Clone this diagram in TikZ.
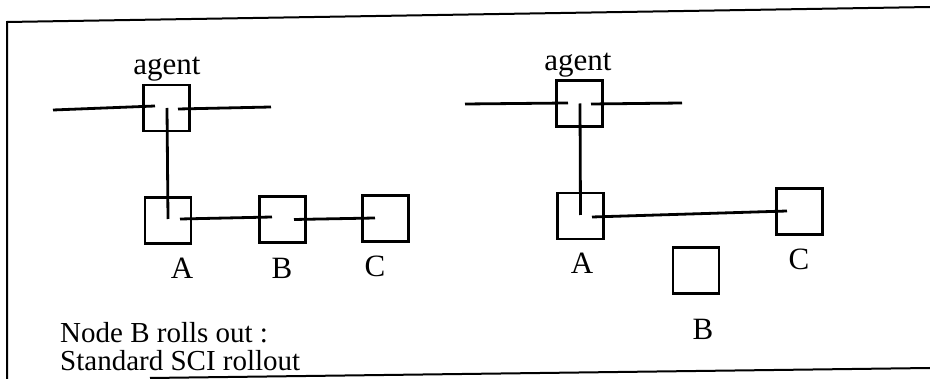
\documentclass[tikz,border=0pt]{standalone}
\usepackage{fontspec}
\setmainfont{Liberation Serif}
\begin{document}
\begin{tikzpicture}[x=1pt,y=-1pt,
  sq/.style={draw,line width=2.7pt,minimum width=46pt,minimum height=46pt,inner sep=0pt},
  wire/.style={line width=2.8pt},
  rim/.style={line width=2pt},
  lbl/.style={anchor=base,inner sep=0pt,font=\fontsize{31}{32}\selectfont},
  txt/.style={anchor=base west,inner sep=0pt,font=\fontsize{29}{24}\selectfont}]
\useasboundingbox (0,0) rectangle (930,379);

% frame
\coordinate (fTR) at (930,7);
\coordinate (fTL) at (7,22);
\coordinate (fBL) at (7,379);
\coordinate (fB1) at (150,378);
\coordinate (fBR) at (930,368);
\draw[rim] (fTR) -- (fTL) -- (fBL);
\draw[rim] (fB1) -- (fBR);

% ---- left: standard ring before rollout ----
\node[sq] (ag1) at (166.5,108) {};
\node[sq] (a1) at (168,220.5) {};
\node[sq] (b1) at (282.5,219.5) {};
\node[sq] (c1) at (385.5,218.5) {};
\node[lbl] (ag1t) at (167,75) {agent};
\node[lbl] (a1t) at (182,279) {A};
\node[lbl] (b1t) at (282,279) {B};
\node[lbl] (c1t) at (375,277) {C};
\coordinate (bus1L) at (53,110);
\coordinate (bus1R) at (271,107);
\draw[wire] (bus1L) -- ([xshift=-11.5pt,yshift=2pt]ag1.center);
\draw[wire] ([xshift=11.5pt,yshift=-1pt]ag1.center) -- (bus1R);
\draw[wire] ([xshift=0.5pt]ag1.center) -- ([yshift=1.5pt]a1.center);
\draw[wire] ([xshift=12pt,yshift=1.5pt]a1.center) -- ([xshift=-10.5pt,yshift=2.5pt]b1.center);
\draw[wire] ([xshift=11.5pt]b1.center) -- ([xshift=-10.5pt,yshift=0.5pt]c1.center);
\node[txt] (note) at (60,343)
  {\begin{tabular}[t]{@{}l@{}}Node B rolls out :\\Standard SCI rollout\end{tabular}};

% ---- right: after B has rolled out ----
\node[sq] (ag2) at (579.5,103.5) {};
\node[sq] (a2) at (580.5,216) {};
\node[sq] (c2) at (799.5,211.5) {};
\node[sq] (b2) at (696,270.5) {};
\node[lbl] (ag2t) at (578,71) {agent};
\node[lbl] (a2t) at (582,274) {A};
\node[lbl] (c2t) at (799,270) {C};
\node[lbl] (b2t) at (703,340) {B};
\coordinate (bus2L) at (465,104);
\coordinate (bus2R) at (682,103);
\draw[wire] (bus2L) -- ([xshift=-11.5pt,yshift=0.5pt]ag2.center);
\draw[wire] ([xshift=11.5pt,yshift=-0.5pt]ag2.center) -- (bus2R);
\draw[wire] ([xshift=0.5pt]ag2.center) -- ([yshift=1pt]a2.center);
\draw[wire] ([xshift=11.5pt,yshift=-1pt]a2.center) -- ([xshift=-12.5pt,yshift=0.5pt]c2.center);
\end{tikzpicture}
\end{document}
